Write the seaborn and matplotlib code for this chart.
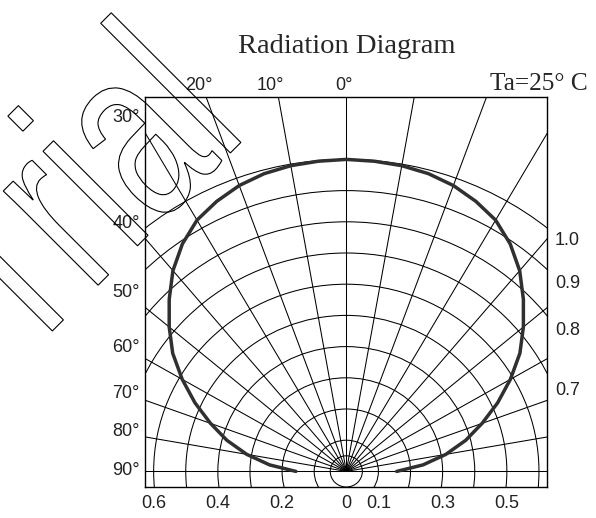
import numpy as np
import pandas as pd
import matplotlib
matplotlib.use("Agg")
import matplotlib.pyplot as plt
import seaborn as sns
from matplotlib.patches import Circle, PathPatch
from matplotlib.textpath import TextPath
from matplotlib.font_manager import FontProperties
from matplotlib.transforms import Affine2D

# Relative luminous intensity versus off-axis angle (degrees, + = left side)
angles = [90, 85, 80, 75, 70, 65, 60, 55, 50, 45, 40, 35, 30, 25, 20, 15, 10, 5, 0,
          -5, -10, -15, -20, -25, -30, -35, -40, -45, -50, -55, -60, -65, -70, -75, -80, -85, -90]
intensity = [0.157, 0.24, 0.315, 0.385, 0.45, 0.52, 0.59, 0.66, 0.72, 0.78, 0.84, 0.89, 0.93,
             0.955, 0.975, 0.988, 0.995, 0.998, 1.0,
             0.998, 0.995, 0.988, 0.975, 0.955, 0.93, 0.89, 0.84, 0.78, 0.72, 0.66, 0.59,
             0.52, 0.45, 0.385, 0.315, 0.24, 0.157]

# Polar grid
grid_radii = [0.05, 0.1, 0.2, 0.3, 0.4, 0.5, 0.6, 0.7, 0.8, 0.9, 1.0]
spoke_angles = [-90, -80, -70, -60, -50, -40, -30, -20, -10, 0, 10, 20, 30, 40, 50, 60, 70, 80, 90]

# Axis labels
x_ticks = [-0.6, -0.4, -0.2, 0.0, 0.1, 0.3, 0.5]
x_tick_labels = ["0.6", "0.4", "0.2", "0", "0.1", "0.3", "0.5"]
left_angles = [30, 40, 50, 60, 70, 80, 90]
top_angles = [20, 10, 0]
scale_labels = ["1.0", "0.9", "0.8", "0.7"]

# label placement (data y for side labels)
left_label_y = [1.133, 0.795, 0.574, 0.397, 0.249, 0.129, 0.003]
scale_label_y = [0.739, 0.602, 0.451, 0.259]

XMIN, XMAX = -0.626, 0.626
YMIN, YMAX = -0.05, 1.2
W, H = 596, 518

sns.set_style("white")
plt.rcParams["font.family"] = ["Liberation Sans", "DejaVu Sans"]

fig = plt.figure(figsize=(W / 100, H / 100), dpi=100)
ax = fig.add_axes([145.3 / W, 31 / H, 402 / W, 390 / H])
ax.set_xlim(XMIN, XMAX)
ax.set_ylim(YMIN, YMAX)

grid_kw = dict(color="black", lw=0.75, zorder=1)
for r in grid_radii:
    ax.add_patch(Circle((0, 0), r, fill=False, **grid_kw))
for a in spoke_angles:
    t = np.deg2rad(a)
    ax.plot([0, -2 * np.sin(t)], [0, 2 * np.cos(t)], solid_capstyle="butt", **grid_kw)

# radiation pattern
th = np.deg2rad(np.array(angles, dtype=float))
rr = np.array(intensity)
df = pd.DataFrame({"x": -rr * np.sin(th), "y": rr * np.cos(th)})
sns.lineplot(data=df, x="x", y="y", sort=False, estimator=None, ax=ax,
             color="#303030", lw=2.5, zorder=3)

ax.set_xlabel("")
ax.set_ylabel("")
ax.set_xticks(x_ticks)
ax.set_xticklabels(x_tick_labels)
ax.set_yticks([])
ax.tick_params(axis="x", length=0, pad=5.6, labelsize=13, labelcolor="#222222")
for s in ax.spines.values():
    s.set_color("black")
    s.set_linewidth(1.0)
    s.set_visible(True)

lab_kw = dict(fontsize=13, color="#222222", annotation_clip=False)
for a, y in zip(left_angles, left_label_y):
    ax.annotate(f"{a}°", xy=(XMIN, y), xytext=(-4, 0), textcoords="offset points",
                ha="right", va="center", **lab_kw)
for a in top_angles:
    xl = -YMAX * np.tan(np.deg2rad(a))
    ax.annotate(f"{a}°", xy=(xl, YMAX), xytext=(4.5, 5), textcoords="offset points",
                ha="right", va="baseline", **lab_kw)
for lab, y in zip(scale_labels, scale_label_y):
    ax.annotate(lab, xy=(XMAX, y), xytext=(5.5, 0), textcoords="offset points",
                ha="left", va="center", **lab_kw)

fig.text(346.3 / W, 1 - 53 / H, "Radiation Diagram", ha="center", va="baseline",
         fontsize=20.5, family="Liberation Serif")
fig.text(490 / W, 1 - 90 / H, "Ta=25° C", ha="left", va="baseline",
         fontsize=18.3, family="Liberation Serif")

# hollow "Trial" overlay
tp = TextPath((0, 0), "Trial", size=1, prop=FontProperties(family="Liberation Sans"))
wm_tr = (Affine2D().scale(168.6, 253).rotate_deg(45).translate(21.5, H - 361.8)
         .scale(1 / W, 1 / H)) + fig.transFigure
fig.add_artist(PathPatch(tp, transform=wm_tr, facecolor="none", edgecolor="black",
                         lw=0.8, zorder=5))

fig.savefig("out.png", dpi=100, facecolor="white")
